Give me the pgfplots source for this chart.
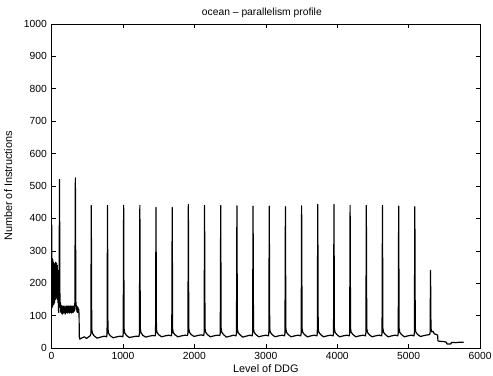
\documentclass[border=0pt]{standalone}
\usepackage{pgfplots}
\pgfplotsset{compat=1.18}
\usepackage{fontspec}
\setmainfont{Liberation Sans}
\begin{document}
\begin{tikzpicture}
\begin{axis}[
  scale only axis,
  width=432pt, height=327pt,
  xmin=0, xmax=6000, ymin=0, ymax=1000,
  xtick={0,1000,...,6000},
  ytick={0,100,...,1000},
  tick align=inside,
  major tick length=4.5pt,
  tick style={black, line width=0.5pt},
  axis line style={black, line width=0.6pt},
  xtick pos=both, ytick pos=both,
  /pgf/number format/assume math mode=true,
  /pgf/number format/1000 sep={},
  ticklabel style={font=\fontsize{10.4}{12}\selectfont},
  xticklabel style={inner sep=0pt, anchor=north, yshift=-4pt},
  yticklabel style={inner sep=0pt, anchor=east, xshift=-4.5pt},
  xlabel={Level of DDG},
  ylabel={Number of Instructions},
  title={ocean \textendash{} parallelism profile},
  xlabel style={font=\fontsize{11}{13}\selectfont, at={(axis description cs:0.5,0)}, anchor=base, inner sep=0pt, yshift=-25pt},
  ylabel style={font=\fontsize{11}{13}\selectfont, at={(axis description cs:0,0.5)}, anchor=south, inner sep=0pt, yshift=39.5pt},
  title style={font=\fontsize{10.4}{12}\selectfont, at={(axis description cs:0.5,1)}, anchor=base, inner sep=0pt, yshift=2pt, xshift=-4pt},
]
\addplot[black, line width=1.2pt, line join=round] coordinates {
(0,120) (2,380) (4,130) (6,270) (8,125) (10,260) (12,135) (15,275) (18,130) (21,255) (24,140) (27,265) (30,135) (33,255) (36,150) (39,260) (42,140) (45,250) (48,160) (51,260) (54,150) (57,265) (60,165) (63,255) (66,155) (69,262) (72,170) (75,250) (78,160) (81,255) (84,150) (87,240) (90,140) (93,200) (96,120) (100,110) (105,150) (111,520) (117,140) (122,125) (126,140)
(130,110) (135,132) (140,108) (145,128) (150,105) (155,130) (160,112) (165,128) (170,108) (175,130) (180,110) (185,125) (190,105) (195,128) (200,112) (205,130) (210,110) (215,127) (220,108) (225,130) (230,112) (235,128) (240,110) (245,130) (250,108) (255,126) (260,112) (265,130) (270,110) (275,128) (280,108) (285,130) (290,112) (295,127) (300,110) (305,130) (310,112) (315,128) (320,115) (326,140) (333,525) (340,145) (345,120) (350,132) (355,112) (360,128) (365,110) (370,125) (375,112) (380,120) (385,100) (388,35) (395,28) (410,30) (430,32) (460,35) (490,30) (520,35) (540,38)
(550,44) (556,440) (562,60) (571,46) (596,38) (636,31) (686,34) (736,37) (771,35)
(777,44) (783,440) (789,60) (798,46) (823,38) (863,32) (913,35) (963,37) (998,35)
(1003,45) (1009,440) (1015,60) (1024,47) (1049,39) (1089,33) (1139,35) (1189,37) (1224,36)
(1230,46) (1236,440) (1242,62) (1251,48) (1276,40) (1316,34) (1366,37) (1416,39) (1451,38)
(1456,46) (1462,434) (1468,60) (1477,48) (1502,41) (1542,35) (1592,38) (1642,40) (1677,38)
(1683,46) (1689,434) (1695,60) (1704,48) (1729,41) (1769,35) (1819,38) (1869,40) (1903,39)
(1909,47) (1915,443) (1921,62) (1930,49) (1955,42) (1995,36) (2045,39) (2095,41) (2130,39)
(2136,47) (2142,440) (2148,62) (2157,49) (2182,42) (2222,35) (2272,38) (2322,40) (2356,39)
(2362,47) (2368,440) (2374,62) (2383,49) (2408,42) (2448,34) (2498,37) (2548,40) (2583,38)
(2589,47) (2595,439) (2601,61) (2610,49) (2635,42) (2675,34) (2725,37) (2775,40) (2809,38)
(2815,47) (2821,438) (2827,61) (2836,49) (2861,42) (2901,35) (2951,38) (3001,40) (3036,38)
(3042,47) (3048,438) (3054,61) (3063,49) (3088,42) (3128,35) (3178,38) (3228,40) (3262,38)
(3268,47) (3274,436) (3280,61) (3289,49) (3314,42) (3354,35) (3404,38) (3454,40) (3489,38)
(3495,47) (3501,439) (3507,61) (3516,49) (3541,42) (3581,35) (3631,38) (3681,40) (3715,38)
(3721,47) (3727,443) (3733,61) (3742,49) (3767,42) (3807,35) (3857,38) (3907,40) (3942,38)
(3948,47) (3954,443) (3960,61) (3969,49) (3994,42) (4034,35) (4084,38) (4134,40) (4168,38)
(4174,47) (4180,440) (4186,61) (4195,49) (4220,42) (4260,35) (4310,38) (4360,40) (4395,38)
(4401,47) (4407,440) (4413,61) (4422,49) (4447,42) (4487,35) (4537,38) (4587,40) (4621,38)
(4627,47) (4633,440) (4639,61) (4648,49) (4673,42) (4713,35) (4763,38) (4813,40) (4848,38)
(4854,47) (4860,438) (4866,61) (4875,49) (4900,42) (4940,35) (4990,38) (5040,40) (5074,38)
(5080,47) (5086,436) (5092,61) (5101,49) (5126,42) (5166,36) (5216,39) (5266,41) (5294,42)
(5300,48) (5306,240) (5312,62) (5322,50) (5340,52) (5360,44) (5390,42) (5405,40) (5410,22) (5450,21) (5500,20) (5530,18) (5535,13) (5590,13) (5600,18) (5660,17) (5700,18) (5770,18)
};
\end{axis}
\pgfresetboundingbox
\path[use as bounding box] (-52pt,-28pt) rectangle (445pt,351pt);
\end{tikzpicture}
\end{document}
